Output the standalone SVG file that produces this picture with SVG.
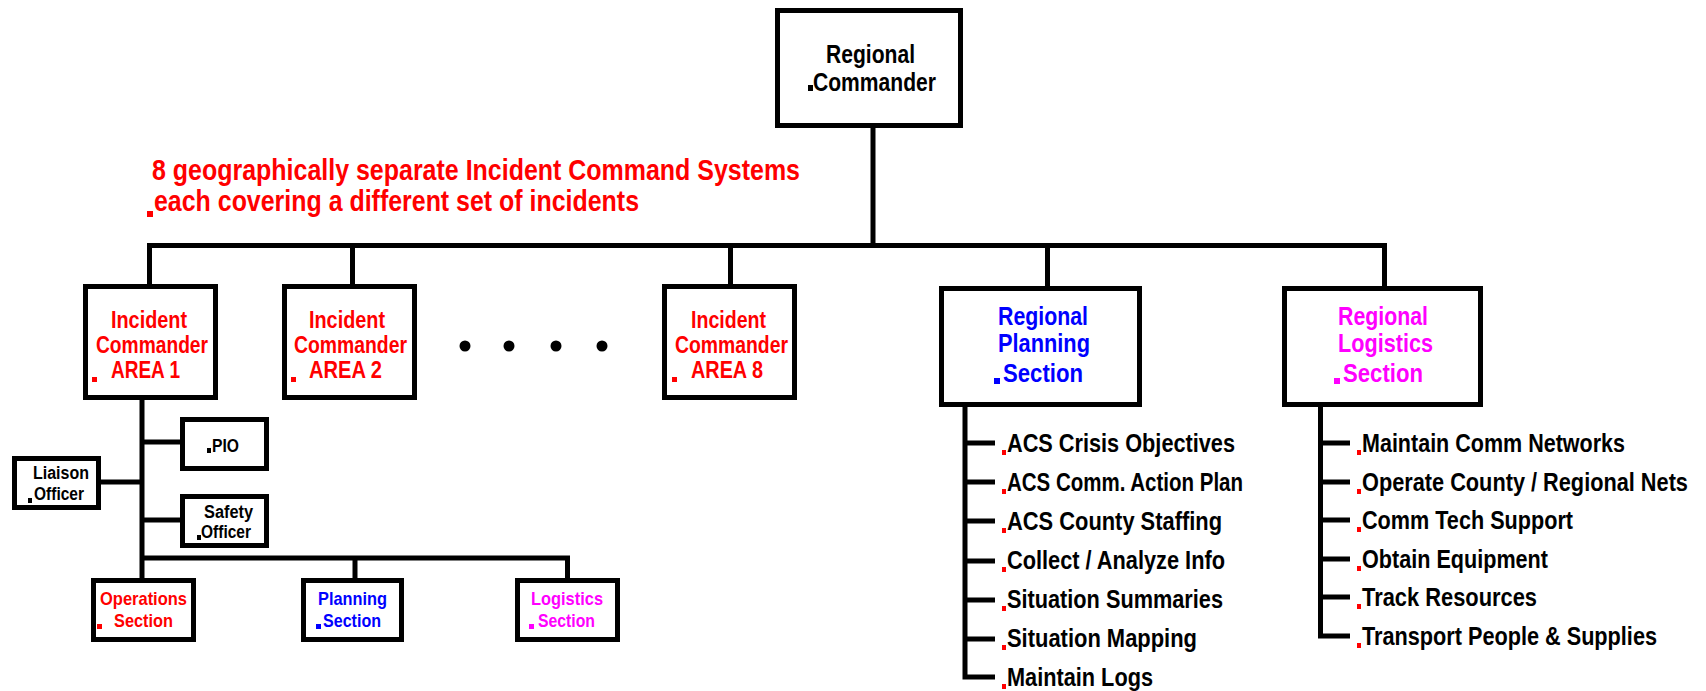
<svg xmlns="http://www.w3.org/2000/svg" width="1706" height="691" viewBox="0 0 1706 691">
  <style>
    .box { fill: #fff; stroke: #000; stroke-width: 5; }
    .ln { fill: none; stroke: #000; stroke-width: 5; stroke-linejoin: miter; }
    text { font-family: "Liberation Sans", Arial, sans-serif; font-weight: bold; }
    .big { font-size: 25px; }
    .mid { font-size: 24px; }
    .hd { font-size: 30px; }
    .sm { font-size: 18px; }
    .sec { font-size: 19px; }
    .lst { font-size: 26px; }
    .k { fill: #000; }
    .r { fill: #ff0000; }
    .b { fill: #0000ff; }
    .m { fill: #ff00ff; }
  </style>
  <rect width="1706" height="691" fill="#fff"/>

  <!-- connectors -->
  <g id="connectors" class="ln">
    <path d="M873 128 V245.5"/>
    <path d="M149.5 286 V245.5 H1384.5 V288"/>
    <path d="M352.5 245.5 V286"/>
    <path d="M730.5 245.5 V286"/>
    <path d="M1047.5 245.5 V288"/>
    <!-- area 1 staff -->
    <path d="M142 400 V580"/>
    <path d="M142 442 H182"/>
    <path d="M99 482 H142"/>
    <path d="M142 520 H182"/>
    <path d="M142 558 H567.5 V580"/>
    <path d="M355 558 V580"/>
    <!-- planning task list -->
    <path d="M965 405 V677 H995"/>
    <path d="M965 443 H995 M965 482 H995 M965 521 H995 M965 561 H995 M965 600 H995 M965 639 H995"/>
    <!-- logistics task list -->
    <path d="M1320.5 405 V636 H1350"/>
    <path d="M1320.5 443 H1350 M1320.5 482 H1350 M1320.5 520 H1350 M1320.5 559 H1350 M1320.5 597 H1350"/>
  </g>

  <g id="regional-commander">
    <rect class="box" x="777.5" y="10.5" width="183" height="115"/>
    <text class="big k" x="826" y="63" textLength="89" lengthAdjust="spacingAndGlyphs">Regional</text>
    <text class="big k" x="813" y="91" textLength="123" lengthAdjust="spacingAndGlyphs">Commander</text>
    <rect class="k" x="808" y="85" width="5" height="6"/>
  </g>

  <g id="ics-note">
    <text class="hd r" x="152" y="180" textLength="648" lengthAdjust="spacingAndGlyphs">8 geographically separate Incident Command Systems</text>
    <text class="hd r" x="154" y="211" textLength="485" lengthAdjust="spacingAndGlyphs">each covering a different set of incidents</text>
    <rect class="r" x="147" y="211" width="6" height="6"/>
  </g>

  <g id="ic-area1">
    <rect class="box" x="85.5" y="286.5" width="130" height="111"/>
    <text class="mid r" x="111" y="328" textLength="76" lengthAdjust="spacingAndGlyphs">Incident</text>
    <text class="mid r" x="96" y="353" textLength="112" lengthAdjust="spacingAndGlyphs">Commander</text>
    <text class="mid r" x="111" y="378" textLength="69" lengthAdjust="spacingAndGlyphs">AREA 1</text>
    <rect class="r" x="92" y="377" width="5" height="5"/>
  </g>

  <g id="ic-area2">
    <rect class="box" x="284.5" y="286.5" width="130" height="111"/>
    <text class="mid r" x="309" y="328" textLength="76" lengthAdjust="spacingAndGlyphs">Incident</text>
    <text class="mid r" x="294" y="353" textLength="113" lengthAdjust="spacingAndGlyphs">Commander</text>
    <text class="mid r" x="309" y="378" textLength="73" lengthAdjust="spacingAndGlyphs">AREA 2</text>
    <rect class="r" x="291" y="377" width="5" height="5"/>
  </g>

  <g id="ellipsis" class="k">
    <circle cx="465" cy="346" r="5.5"/>
    <circle cx="509" cy="346" r="5.5"/>
    <circle cx="556" cy="346" r="5.5"/>
    <circle cx="602" cy="346" r="5.5"/>
  </g>

  <g id="ic-area8">
    <rect class="box" x="664.5" y="286.5" width="130" height="111"/>
    <text class="mid r" x="691" y="328" textLength="75" lengthAdjust="spacingAndGlyphs">Incident</text>
    <text class="mid r" x="675" y="353" textLength="113" lengthAdjust="spacingAndGlyphs">Commander</text>
    <text class="mid r" x="691" y="378" textLength="72" lengthAdjust="spacingAndGlyphs">AREA 8</text>
    <rect class="r" x="672" y="377" width="5" height="5"/>
  </g>

  <g id="regional-planning">
    <rect class="box" x="941.5" y="288.5" width="198" height="116"/>
    <text class="big b" x="998" y="325" textLength="90" lengthAdjust="spacingAndGlyphs">Regional</text>
    <text class="big b" x="998" y="352" textLength="92" lengthAdjust="spacingAndGlyphs">Planning</text>
    <text class="big b" x="1003" y="382" textLength="80" lengthAdjust="spacingAndGlyphs">Section</text>
    <rect class="b" x="994" y="378" width="6" height="6"/>
  </g>

  <g id="regional-logistics">
    <rect class="box" x="1284.5" y="288.5" width="196" height="116"/>
    <text class="big m" x="1338" y="325" textLength="90" lengthAdjust="spacingAndGlyphs">Regional</text>
    <text class="big m" x="1338" y="352" textLength="95" lengthAdjust="spacingAndGlyphs">Logistics</text>
    <text class="big m" x="1343" y="382" textLength="80" lengthAdjust="spacingAndGlyphs">Section</text>
    <rect class="m" x="1334" y="378" width="6" height="6"/>
  </g>

  <g id="pio">
    <rect class="box" x="182.5" y="419.5" width="84" height="49"/>
    <text class="sm k" x="212" y="452" textLength="27" lengthAdjust="spacingAndGlyphs">PIO</text>
    <rect class="k" x="207" y="448" width="4" height="5"/>
  </g>

  <g id="liaison-officer">
    <rect class="box" x="14.5" y="458.5" width="84" height="49"/>
    <text class="sm k" x="33" y="479" textLength="56" lengthAdjust="spacingAndGlyphs">Liaison</text>
    <text class="sm k" x="34" y="500" textLength="50" lengthAdjust="spacingAndGlyphs">Officer</text>
    <rect class="k" x="28" y="498" width="4" height="5"/>
  </g>

  <g id="safety-officer">
    <rect class="box" x="182.5" y="496.5" width="84" height="49"/>
    <text class="sm k" x="204" y="518" textLength="49" lengthAdjust="spacingAndGlyphs">Safety</text>
    <text class="sm k" x="201" y="538" textLength="50" lengthAdjust="spacingAndGlyphs">Officer</text>
    <rect class="k" x="197" y="535" width="4" height="5"/>
  </g>

  <g id="operations-section">
    <rect class="box" x="93.5" y="580.5" width="100" height="59"/>
    <text class="sec r" x="100" y="605" textLength="87" lengthAdjust="spacingAndGlyphs">Operations</text>
    <text class="sec r" x="114" y="627" textLength="59" lengthAdjust="spacingAndGlyphs">Section</text>
    <rect class="r" x="97" y="624" width="5" height="5"/>
  </g>

  <g id="planning-section">
    <rect class="box" x="303.5" y="580.5" width="98" height="59"/>
    <text class="sec b" x="318" y="605" textLength="69" lengthAdjust="spacingAndGlyphs">Planning</text>
    <text class="sec b" x="323" y="627" textLength="58" lengthAdjust="spacingAndGlyphs">Section</text>
    <rect class="b" x="316" y="624" width="5" height="5"/>
  </g>

  <g id="logistics-section">
    <rect class="box" x="517.5" y="580.5" width="100" height="59"/>
    <text class="sec m" x="531" y="605" textLength="72" lengthAdjust="spacingAndGlyphs">Logistics</text>
    <text class="sec m" x="538" y="627" textLength="57" lengthAdjust="spacingAndGlyphs">Section</text>
    <rect class="m" x="529" y="624" width="5" height="5"/>
  </g>

  <g id="planning-tasks">
    <text class="lst k" x="1007" y="452" textLength="228" lengthAdjust="spacingAndGlyphs">ACS Crisis Objectives</text>
    <text class="lst k" x="1007" y="491" textLength="236" lengthAdjust="spacingAndGlyphs">ACS Comm. Action Plan</text>
    <text class="lst k" x="1007" y="530" textLength="215" lengthAdjust="spacingAndGlyphs">ACS County Staffing</text>
    <text class="lst k" x="1007" y="569" textLength="218" lengthAdjust="spacingAndGlyphs">Collect / Analyze Info</text>
    <text class="lst k" x="1007" y="608" textLength="216" lengthAdjust="spacingAndGlyphs">Situation Summaries</text>
    <text class="lst k" x="1007" y="647" textLength="190" lengthAdjust="spacingAndGlyphs">Situation Mapping</text>
    <text class="lst k" x="1007" y="686" textLength="146" lengthAdjust="spacingAndGlyphs">Maintain Logs</text>
    <g class="r">
      <rect x="1002" y="450" width="4" height="5"/>
      <rect x="1002" y="489" width="4" height="5"/>
      <rect x="1002" y="528" width="4" height="5"/>
      <rect x="1002" y="567" width="4" height="5"/>
      <rect x="1002" y="606" width="4" height="5"/>
      <rect x="1002" y="645" width="4" height="5"/>
      <rect x="1002" y="684" width="4" height="5"/>
    </g>
  </g>

  <g id="logistics-tasks">
    <text class="lst k" x="1362" y="452" textLength="263" lengthAdjust="spacingAndGlyphs">Maintain Comm Networks</text>
    <!-- long entries: condensed with a horizontal scale so they stay inside the page -->
    <text class="lst k" transform="translate(1362 491) scale(0.836 1)" x="0" y="0">Operate County / Regional Nets</text>
    <text class="lst k" x="1362" y="529" textLength="211" lengthAdjust="spacingAndGlyphs">Comm Tech Support</text>
    <text class="lst k" x="1362" y="568" textLength="186" lengthAdjust="spacingAndGlyphs">Obtain Equipment</text>
    <text class="lst k" x="1362" y="606" textLength="175" lengthAdjust="spacingAndGlyphs">Track Resources</text>
    <text class="lst k" transform="translate(1362 645) scale(0.834 1)" x="0" y="0">Transport People &amp; Supplies</text>
    <g class="r">
      <rect x="1357" y="450" width="4" height="5"/>
      <rect x="1357" y="489" width="4" height="5"/>
      <rect x="1357" y="527" width="4" height="5"/>
      <rect x="1357" y="566" width="4" height="5"/>
      <rect x="1357" y="604" width="4" height="5"/>
      <rect x="1357" y="643" width="4" height="5"/>
    </g>
  </g>
</svg>
